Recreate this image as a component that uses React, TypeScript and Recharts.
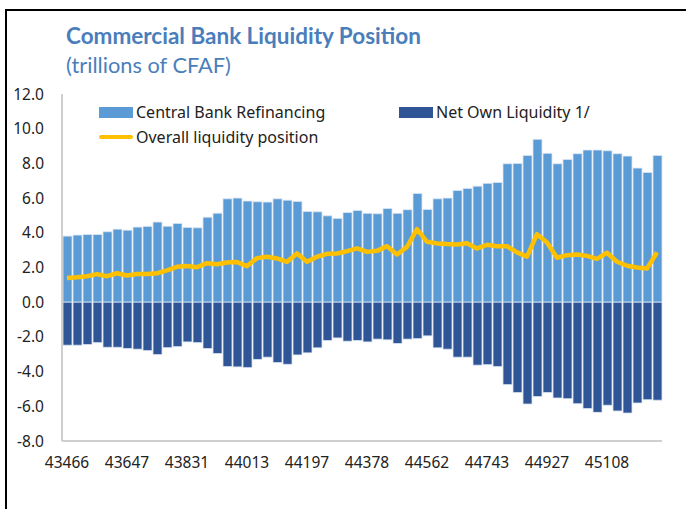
import {
  ComposedChart,
  Bar,
  Line,
  XAxis,
  YAxis,
} from "recharts";

// month labels are Excel date serials (first of each month, Jan 2019 - Dec 2023)
const months = [
  "43466", "43497", "43525", "43556", "43586", "43617", "43647", "43678", "43709", "43739", "43770", "43800",
  "43831", "43862", "43891", "43922", "43952", "43983", "44013", "44044", "44075", "44105", "44136", "44166",
  "44197", "44228", "44256", "44287", "44317", "44348", "44378", "44409", "44440", "44470", "44501", "44531",
  "44562", "44593", "44621", "44652", "44682", "44713", "44743", "44774", "44805", "44835", "44866", "44896",
  "44927", "44958", "44986", "45017", "45047", "45078", "45108", "45139", "45170", "45200", "45231", "45261",
];

const refinancing = [
  3.81, 3.87, 3.9, 3.9, 4.06, 4.21, 4.15, 4.33, 4.37, 4.62, 4.38, 4.54, 4.31, 4.29, 4.9, 5.13, 5.96, 6.0, 5.83, 5.79,
  5.77, 5.96, 5.88, 5.81, 5.23, 5.21, 4.98, 4.83, 5.17, 5.29, 5.12, 5.1, 5.4, 5.12, 5.33, 6.27, 5.35, 5.96, 6.0, 6.44,
  6.56, 6.69, 6.85, 6.9, 7.98, 8.0, 8.46, 9.39, 8.58, 7.98, 8.23, 8.56, 8.77, 8.77, 8.73, 8.56, 8.42, 7.73, 7.48, 8.46,
];

const netOwn = [
  -2.48, -2.48, -2.44, -2.33, -2.6, -2.6, -2.67, -2.71, -2.79, -3.02, -2.62, -2.56, -2.29, -2.33, -2.67, -2.96, -3.71, -3.73, -3.77, -3.3,
  -3.17, -3.48, -3.58, -3.04, -2.92, -2.63, -2.21, -2.06, -2.25, -2.21, -2.29, -2.13, -2.17, -2.38, -2.13, -2.1, -1.94, -2.63, -2.71, -3.17,
  -3.17, -3.63, -3.6, -3.71, -4.75, -5.21, -5.87, -5.44, -5.21, -5.52, -5.56, -5.85, -6.13, -6.35, -5.94, -6.27, -6.39, -5.81, -5.62, -5.65,
];

const overall = [
  1.4, 1.44, 1.5, 1.62, 1.5, 1.67, 1.54, 1.63, 1.62, 1.67, 1.83, 2.04, 2.08, 2.02, 2.25, 2.19, 2.29, 2.31, 2.08, 2.54,
  2.62, 2.52, 2.33, 2.81, 2.33, 2.62, 2.79, 2.81, 2.94, 3.1, 2.9, 2.96, 3.23, 2.75, 3.19, 4.21, 3.48, 3.39, 3.35, 3.33,
  3.4, 3.1, 3.31, 3.23, 3.23, 2.87, 2.63, 3.92, 3.44, 2.56, 2.71, 2.75, 2.67, 2.5, 2.85, 2.33, 2.1, 2.0, 1.94, 2.87,
];

const yTicks = [-8, -6, -4, -2, 0, 2, 4, 6, 8, 10, 12];

const colors = {
  refi: "#5B9BD5",
  netOwn: "#2F5597",
  overall: "#FFC000",
  title: "#4A7EBB",
  frame: "#D9D9D9",
  text: "#222222",
};

const data = months.map((m, i) => ({
  month: m,
  refi: refinancing[i],
  netOwn: netOwn[i],
  overall: overall[i],
}));

const uiFont = "'Noto Sans', 'Open Sans', sans-serif";

function LegendSwatch({ kind, color }: { kind: "bar" | "line"; color: string }) {
  if (kind === "line") {
    return (
      <div style={{ width: 34, height: 12, display: "flex", alignItems: "center" }}>
        <div style={{ width: 34, height: 4, background: color, borderRadius: 2 }} />
      </div>
    );
  }
  return <div style={{ width: 34, height: 11, background: color }} />;
}

function LegendItem({ left, top, label, kind, color }: { left: number; top: number; label: string; kind: "bar" | "line"; color: string }) {
  return (
    <div
      style={{
        position: "absolute",
        left,
        top,
        display: "flex",
        alignItems: "center",
        gap: 3,
        fontFamily: uiFont,
        fontSize: 16,
        color: colors.text,
        lineHeight: "20px",
        whiteSpace: "nowrap",
      }}
    >
      <LegendSwatch kind={kind} color={color} />
      <span>{label}</span>
    </div>
  );
}

export default function App() {
  return (
    <div
      style={{
        position: "absolute",
        left: 0,
        top: 0,
        width: 686,
        height: 509,
        overflow: "hidden",
        background: "#fff",
      }}
    >
      {/* outer frame */}
      <div
        style={{
          position: "absolute",
          left: 5,
          top: 9,
          width: 720,
          height: 540,
          border: "2px solid #000",
        }}
      />

      <div
        style={{
          position: "absolute",
          left: 66,
          top: 23,
          fontFamily: "Lato, sans-serif",
          fontWeight: 700,
          fontSize: 22.5,
          lineHeight: "26px",
          color: colors.title,
          whiteSpace: "nowrap",
        }}
      >
        Commercial Bank Liquidity Position
      </div>
      <div
        style={{
          position: "absolute",
          left: 66,
          top: 52,
          fontFamily: "Lato, sans-serif",
          fontSize: 21.8,
          lineHeight: "26px",
          color: colors.title,
          whiteSpace: "nowrap",
        }}
      >
        (trillions of CFAF)
      </div>

      <div style={{ position: "absolute", left: 0, top: 0 }}>
        <ComposedChart
          width={686}
          height={509}
          data={data}
          stackOffset="sign"
          margin={{ top: 94, right: 24, bottom: 38, left: 0 }}
        >
          <XAxis
            dataKey="month"
            interval={5}
            tickLine={false}
            tickSize={0}
            tickMargin={16}
            height={30}
            axisLine={{ stroke: "#BFBFBF", strokeWidth: 1.5 }}
            tick={{ fill: colors.text, fontSize: 15.5, fontFamily: uiFont }}
          />
          <XAxis
            xAxisId="top"
            dataKey="month"
            orientation="top"
            tick={false}
            tickLine={false}
            height={0}
            axisLine={{ stroke: colors.frame }}
          />
          <YAxis
            domain={[-8, 12]}
            ticks={yTicks}
            tickFormatter={(v: number) => v.toFixed(1)}
            tickLine={false}
            tickSize={0}
            tickMargin={18}
            width={62}
            axisLine={{ stroke: "#BFBFBF", strokeWidth: 1.5 }}
            tick={{ fill: colors.text, fontSize: 15.5, fontFamily: uiFont }}
          />
          <YAxis
            yAxisId="right"
            orientation="right"
            domain={[-8, 12]}
            tick={false}
            tickLine={false}
            width={0}
            axisLine={{ stroke: colors.frame }}
          />
          <Bar
            dataKey="refi"
            stackId="s"
            fill={colors.refi}
            stroke="#DCE6F2"
            strokeWidth={0.8}
            barSize={9}
            isAnimationActive={false}
          />
          <Bar
            dataKey="netOwn"
            stackId="s"
            fill={colors.netOwn}
            stroke="#DCE6F2"
            strokeWidth={0.8}
            barSize={9}
            isAnimationActive={false}
          />
          <Line
            type="linear"
            dataKey="overall"
            stroke={colors.overall}
            strokeWidth={4.5}
            strokeLinejoin="round"
            dot={false}
            isAnimationActive={false}
          />
        </ComposedChart>
      </div>

      <LegendItem left={99} top={102} label="Central Bank Refinancing" kind="bar" color={colors.refi} />
      <LegendItem left={399} top={102} label="Net Own Liquidity 1/" kind="bar" color={colors.netOwn} />
      <LegendItem left={99} top={127} label="Overall liquidity position" kind="line" color={colors.overall} />
    </div>
  );
}
